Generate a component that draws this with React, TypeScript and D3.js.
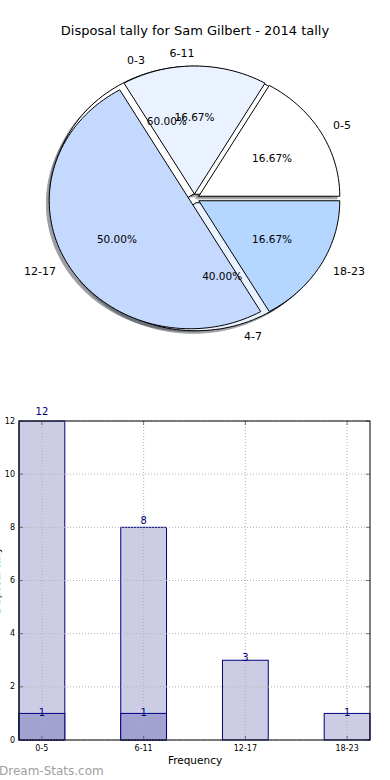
import React from "react";
import * as d3 from "d3";

const title = "Disposal tally for Sam Gilbert - 2014 tally";
const pieLabels = ["0-5", "6-11", "12-17", "18-23"];
const pieValues = [1, 1, 3, 1];
const pieColors = ["#ffffff", "#eaf2ff", "#c5d9ff", "#b4d6ff"];
const pie2Labels = ["0-3", "4-7"];
const pie2Values = [3, 2];
const pie2Colors = ["#ffffff", "#eaf2ff"];

const barCategories = ["0-5", "6-11", "12-17", "18-23"];
const barOuter = [12, 8, 3, 1];
const barInner = [1, 1, 0, 0];
const yTicks = [0, 2, 4, 6, 8, 10, 12];
const xLabel = "Frequency";
const yLabel = "Disposal tally";
const watermark = "Dream-Stats.com";

const FONT = "DejaVu Sans, sans-serif";

const W = 390;
const H = 780;

// pie geometry
const pcx = 194.5, pcy = 198.5, prx = 141, pry = 128;
const explode = 0.035;
const px = d3.scaleLinear().domain([-1, 1]).range([pcx - prx, pcx + prx]);
const py = d3.scaleLinear().domain([-1, 1]).range([pcy + pry, pcy - pry]);

function shade(c: string, f: number) {
  const r = d3.rgb(c);
  return d3.rgb(r.r * f, r.g * f, r.b * f).formatHex();
}

function wedgePath(a0: number, a1: number, ox: number, oy: number) {
  const n = Math.max(8, Math.ceil(((a1 - a0) / (Math.PI * 2)) * 180));
  const pts: [number, number][] = [[ox, oy]];
  for (let i = 0; i <= n; i++) {
    const t = a0 + ((a1 - a0) * i) / n;
    pts.push([ox + Math.cos(t), oy + Math.sin(t)]);
  }
  const line = d3
    .line<[number, number]>()
    .x((d) => px(d[0]))
    .y((d) => py(d[1]));
  return line(pts) + "Z";
}

function buildPie(values: number[], labels: string[], colors: string[]) {
  const arcs = d3
    .pie<number>()
    .sort(null)
    .startAngle(0)
    .endAngle(Math.PI * 2)(values);
  const total = d3.sum(values);
  return arcs.map((a, i) => {
    const mid = (a.startAngle + a.endAngle) / 2;
    const ox = explode * Math.cos(mid);
    const oy = explode * Math.sin(mid);
    const c = Math.cos(mid);
    return {
      path: wedgePath(a.startAngle, a.endAngle, ox, oy),
      shadow: wedgePath(a.startAngle, a.endAngle, ox - 0.02, oy - 0.02),
      color: colors[i],
      label: labels[i],
      pct: ((values[i] / total) * 100).toFixed(2) + "%",
      lx: px(ox + 1.1 * Math.cos(mid)),
      ly: py(oy + 1.1 * Math.sin(mid)),
      anchor: Math.abs(c) < 1e-6 ? "end" : c > 0 ? "start" : "end",
      tx: px(ox + 0.6 * Math.cos(mid)),
      ty: py(oy + 0.6 * Math.sin(mid)),
    };
  });
}

// bar geometry
const bx0 = 19, bx1 = 370, by0 = 421, by1 = 740;
const barW = 0.45;
const bxs = d3.scaleLinear().domain([-barW / 2, barCategories.length - 1 + barW / 2]).range([bx0, bx1]);
const bys = d3.scaleLinear().domain([0, 12]).range([by1, by0]);

export default function App() {
  const pie2 = buildPie(pie2Values, pie2Labels, pie2Colors);
  const pie1 = buildPie(pieValues, pieLabels, pieColors);
  const all = [...pie2, ...pie1];

  return (
    <svg
      width={W}
      height={H}
      style={{ position: "absolute", left: 0, top: 0, background: "#fff" }}
      fontFamily={FONT}
    >
      <rect x={0} y={0} width={W} height={H} fill="#fff" />
      <text x={195} y={30} textAnchor="middle" dominantBaseline="central" fontSize={13} fill="#000">
        {title}
      </text>

      {/* shadows */}
      {all.map((s, i) => (
        <path
          key={"sh" + i}
          d={s.shadow}
          fill={shade(s.color, 0.3)}
          stroke={shade(s.color, 0.3)}
          strokeWidth={1}
          opacity={0.5}
        />
      ))}
      {/* wedges */}
      {all.map((s, i) => (
        <path key={"w" + i} d={s.path} fill={s.color} stroke="#000" strokeWidth={1} strokeLinejoin="round" />
      ))}
      {/* labels */}
      {all.map((s, i) => (
        <text
          key={"l" + i}
          x={s.lx}
          y={s.ly}
          textAnchor={s.anchor}
          dominantBaseline="central"
          fontSize={11}
          fill="#000"
        >
          {s.label}
        </text>
      ))}
      {all.map((s, i) => (
        <text
          key={"p" + i}
          x={s.tx}
          y={s.ty}
          textAnchor="middle"
          dominantBaseline="central"
          fontSize={10.5}
          fill="#000"
        >
          {s.pct}
        </text>
      ))}

      {/* bar chart */}
      {barOuter.map((v, i) => (
        <rect
          key={"bo" + i}
          x={bxs(i - barW / 2)}
          y={bys(v)}
          width={bxs(i + barW / 2) - bxs(i - barW / 2)}
          height={bys(0) - bys(v)}
          fill="#ccccE5"
          stroke="#000080"
          strokeWidth={1}
        />
      ))}
      {barInner.map((v, i) =>
        v > 0 ? (
          <rect
            key={"bi" + i}
            x={bxs(i - barW / 2)}
            y={bys(v)}
            width={bxs(i + barW / 2) - bxs(i - barW / 2)}
            height={bys(0) - bys(v)}
            fill="#a2a2d0"
            stroke="#000080"
            strokeWidth={1}
          />
        ) : null
      )}
      {/* grid */}
      {yTicks.map((t) => (
        <line
          key={"gy" + t}
          x1={bx0}
          x2={bx1}
          y1={bys(t)}
          y2={bys(t)}
          stroke="#b0b0b0"
          strokeDasharray="1,2"
          strokeWidth={1}
        />
      ))}
      {barCategories.map((c, i) => (
        <line
          key={"gx" + i}
          x1={bxs(i)}
          x2={bxs(i)}
          y1={by0}
          y2={by1}
          stroke="#b0b0b0"
          strokeDasharray="1,2"
          strokeWidth={1}
        />
      ))}
      {/* ticks */}
      {yTicks.map((t) => (
        <g key={"ty" + t}>
          <line x1={bx0} x2={bx0 + 4} y1={bys(t)} y2={bys(t)} stroke="#555" strokeWidth={0.8} />
          <line x1={bx1 - 4} x2={bx1} y1={bys(t)} y2={bys(t)} stroke="#555" strokeWidth={0.8} />
          <text x={bx0 - 4} y={bys(t)} textAnchor="end" dominantBaseline="central" fontSize={8} fill="#000">
            {t}
          </text>
        </g>
      ))}
      {barCategories.map((c, i) => (
        <g key={"tx" + i}>
          <line x1={bxs(i)} x2={bxs(i)} y1={by1} y2={by1 - 4} stroke="#555" strokeWidth={0.8} />
          <line x1={bxs(i)} x2={bxs(i)} y1={by0} y2={by0 + 4} stroke="#555" strokeWidth={0.8} />
          <text x={bxs(i)} y={by1 + 8} textAnchor="middle" dominantBaseline="central" fontSize={8} fill="#000">
            {c}
          </text>
        </g>
      ))}
      <rect x={bx0} y={by0} width={bx1 - bx0} height={by1 - by0} fill="none" stroke="#000" strokeWidth={1} />
      {/* value labels */}
      {barOuter.map((v, i) => (
        <text
          key={"vo" + i}
          x={bxs(i)}
          y={bys(v * 1.03)}
          textAnchor="middle"
          dominantBaseline="central"
          fontSize={10}
          fill="#000080"
        >
          {v}
        </text>
      ))}
      {barInner.map((v, i) =>
        v > 0 ? (
          <text
            key={"vi" + i}
            x={bxs(i)}
            y={bys(v * 1.03)}
            textAnchor="middle"
            dominantBaseline="central"
            fontSize={10}
            fill="#000080"
          >
            {v}
          </text>
        ) : null
      )}
      <text x={195} y={760} textAnchor="middle" dominantBaseline="central" fontSize={10.5} fill="#000">
        {xLabel}
      </text>
      <text
        transform={`translate(-4,${(by0 + by1) / 2}) rotate(-90)`}
        textAnchor="middle"
        dominantBaseline="central"
        fontSize={10}
        fill="#000"
      >
        {yLabel}
      </text>
      <text x={-1} y={775} fontSize={12} fill="#a0a0a0">
        {watermark}
      </text>
    </svg>
  );
}
